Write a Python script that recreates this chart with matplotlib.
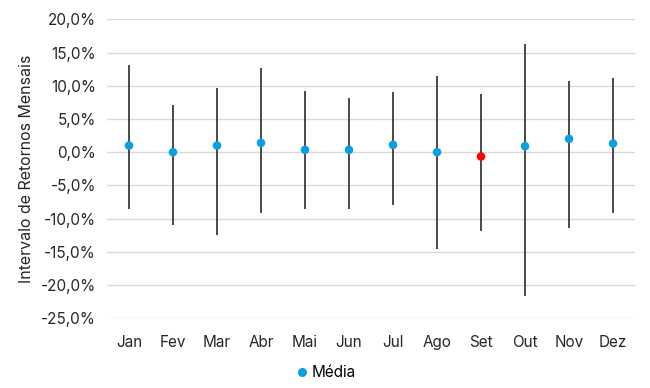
import numpy as np
import matplotlib.pyplot as plt
from matplotlib.ticker import FuncFormatter
from matplotlib.lines import Line2D

plt.rcParams['font.family'] = ['Inter', 'DejaVu Sans']

# Monthly return ranges (%)
months = ['Jan', 'Fev', 'Mar', 'Abr', 'Mai', 'Jun', 'Jul', 'Ago', 'Set', 'Out', 'Nov', 'Dez']
maximo = [13.1, 7.1, 9.6, 12.7, 9.2, 8.2, 9.1, 11.5, 8.7, 16.3, 10.7, 11.1]
minimo = [-8.5, -11.0, -12.5, -9.1, -8.5, -8.5, -7.9, -14.6, -11.9, -21.7, -11.4, -9.1]
media = [1.0, 0.0, 1.0, 1.4, 0.35, 0.35, 1.1, 0.0, -0.65, 0.9, 2.0, 1.3]
destaque = 'Set'

fig = plt.figure(figsize=(6.5, 3.88), dpi=100)
ax = fig.add_axes([0.1646, 0.180, 0.8124, 0.770])

x = np.arange(len(months))
ax.vlines(x, minimo, maximo, color='#3a3a3a', linewidth=1.3, zorder=2)

cores = ['#FF0000' if m == destaque else '#0A9FE0' for m in months]
ax.scatter(x, media, s=38, c=cores, zorder=3, linewidths=0)

ax.set_xlim(-0.5, len(months) - 0.5)
ax.set_ylim(-25, 20)
ax.set_yticks(np.arange(-25, 20.1, 5))
ax.yaxis.set_major_formatter(FuncFormatter(lambda v, p: f'{v:.1f}%'.replace('.', ',')))
ax.set_xticks(x)
ax.set_xticklabels(months)
ax.grid(axis='y', color='#D9D9D9', linewidth=1)
ax.set_axisbelow(True)
for s in ax.spines.values():
    s.set_visible(False)
ax.tick_params(length=0, labelsize=11, colors='#262626', pad=8)
ax.tick_params(axis='x', pad=12)
ax.set_ylabel('Intervalo de Retornos Mensais', fontsize=11.5, color='#262626', labelpad=5)

handle = Line2D([], [], marker='o', linestyle='none', color='#0A9FE0', markersize=6.5, markeredgewidth=0)
fig.legend([handle], ['Média'], loc='center', bbox_to_anchor=(0.5, 0.04), frameon=False,
           fontsize=11, handletextpad=0.1, handlelength=1.0)

fig.savefig('out.png', dpi=100)
